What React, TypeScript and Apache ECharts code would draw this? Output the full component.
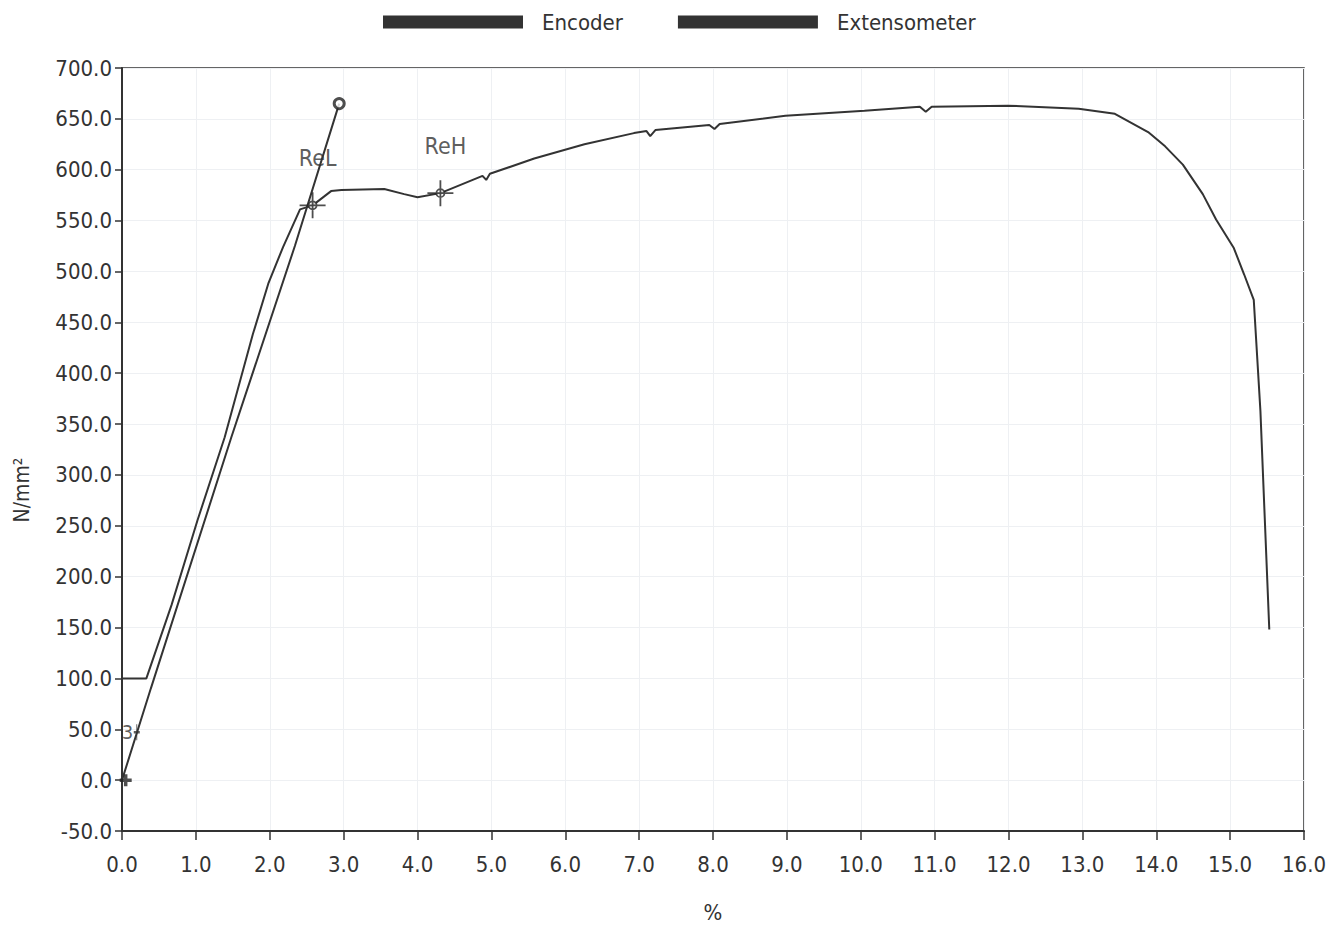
import React, { useEffect, useRef } from "react";
import * as echarts from "echarts";

// Encoder curve (strain %, stress N/mm²)
const encoderX = [0, 0.33, 0.67, 1.02, 1.39, 1.77, 1.98, 2.18, 2.41, 2.58, 2.83, 2.97, 3.55, 3.82, 4.0, 4.31, 4.88, 4.93, 4.98, 5.58, 6.26, 6.93, 7.1, 7.15, 7.22, 7.95, 8.02, 8.09, 8.98, 10.05, 10.8, 10.88, 10.96, 11.99, 12.95, 13.44, 13.89, 14.12, 14.36, 14.63, 14.81, 15.05, 15.19, 15.32, 15.41, 15.45, 15.53];
const encoderY = [100, 100, 172, 255, 337, 438, 488, 524, 561, 565, 579, 580, 581, 576, 573, 577, 594, 590, 596, 611, 625, 636, 638, 633, 639, 644, 640, 645, 653, 658, 662, 657, 662, 663, 660, 655, 637, 623, 605, 576, 551, 523, 497, 472, 363, 291, 148];

// Extensometer line
const extX = [0, 0.39, 1.48, 2.34, 2.94];
const extY = [0, 90, 337, 525, 665];

// Yield markers
const markerX = [2.58, 4.31];
const markerY = [565, 577];
const markerLabels = ["ReL", "ReH"];

// Small annotations near origin
const startMark = [0.05, 0];
const noteMark = [0.2, 47];
const noteLabel = "3";

const xMin = 0, xMax = 16, xStep = 1;
const yMin = -50, yMax = 700, yStep = 50;

const FONT = "'Liberation Sans Narrow', 'DejaVu Sans Condensed', 'Liberation Sans', Arial, sans-serif";
const INK = "#333333";
const FS = 22;

export default function App() {
  const ref = useRef<HTMLDivElement>(null);
  useEffect(() => {
    if (!ref.current) return;
    const chart = echarts.init(ref.current, null, { renderer: "svg" });
    const fmt = (v: number) => v.toFixed(1);
    const option: any = {
      animation: false,
      backgroundColor: "#ffffff",
      textStyle: { fontFamily: FONT, color: INK },
      legend: {
        data: ["Encoder", "Extensometer"],
        left: 378,
        top: 6,
        icon: "rect",
        itemWidth: 140,
        itemHeight: 13,
        itemGap: 55,
        textStyle: { fontSize: FS, color: INK, fontFamily: FONT, padding: [0, 0, 0, 14] },
      },
      grid: {
        left: 122,
        right: 40,
        top: 68,
        bottom: 96,
        show: true,
        borderColor: INK,
        borderWidth: 1.5,
        backgroundColor: "transparent",
      },
      xAxis: {
        type: "value",
        min: xMin,
        max: xMax,
        interval: xStep,
        name: "%",
        nameLocation: "middle",
        nameGap: 70,
        nameTextStyle: { fontSize: FS, color: INK, fontFamily: FONT },
        axisLine: { onZero: false, lineStyle: { color: INK, width: 2 } },
        axisTick: { show: true, length: 9, lineStyle: { color: INK, width: 1.5 } },
        axisLabel: { formatter: fmt, fontSize: FS, color: INK, fontFamily: FONT, margin: 22 },
        splitLine: { show: true, lineStyle: { color: "#eef0f3", width: 1 } },
      },
      yAxis: {
        type: "value",
        min: yMin,
        max: yMax,
        interval: yStep,
        axisLine: { show: true, onZero: false, lineStyle: { color: INK, width: 2 } },
        axisTick: { show: true, length: 7, lineStyle: { color: INK, width: 1.5 } },
        axisLabel: { formatter: fmt, fontSize: FS, color: INK, fontFamily: FONT, margin: 10 },
        splitLine: { show: true, lineStyle: { color: "#eef0f3", width: 1 } },
      },
      graphic: [
        {
          type: "text",
          x: 22,
          y: 490,
          rotation: Math.PI / 2,
          style: {
            text: "N/mm²",
            fontSize: 21,
            fontFamily: FONT,
            fill: INK,
            align: "center",
            verticalAlign: "middle",
          },
        },
      ],
      series: [
        {
          name: "Encoder",
          type: "line",
          data: encoderX.map((x, i) => [x, encoderY[i]]),
          showSymbol: false,
          color: INK,
          lineStyle: { color: INK, width: 2 },
          z: 3,
        },
        {
          name: "Extensometer",
          type: "line",
          data: extX.map((x, i) => [x, extY[i]]),
          showSymbol: false,
          color: INK,
          lineStyle: { color: INK, width: 2 },
          z: 3,
        },
        {
          name: "yield",
          type: "scatter",
          data: markerX.map((x, i) => [x, markerY[i]]),
          symbol: "path://M0,13L26,13M13,0L13,26M17,13A4,4,0,1,1,9,13A4,4,0,1,1,17,13Z",
          symbolSize: 26,
          itemStyle: { color: "#ffffff", borderColor: "#222222", borderWidth: 1.8 },
          label: {
            show: true,
            position: "top",
            distance: 22,
            offset: [5, 0],
            formatter: (p: any) => markerLabels[p.dataIndex],
            fontSize: 23,
            color: INK,
            fontFamily: FONT,
          },
          z: 5,
        },
        {
          name: "end",
          type: "scatter",
          data: [[extX[extX.length - 1], extY[extY.length - 1]]],
          symbol: "circle",
          symbolSize: 10,
          itemStyle: { color: "#ffffff", borderColor: "#222222", borderWidth: 3 },
          z: 6,
        },
        {
          name: "start",
          type: "scatter",
          data: [startMark],
          symbol: "path://M0,6L12,6M6,0L6,12",
          symbolSize: 12,
          itemStyle: { color: INK, borderColor: "#222222", borderWidth: 3.5 },
          z: 6,
        },
        {
          name: "note",
          type: "scatter",
          data: [noteMark],
          symbol: "path://M0,0L0,16M-3,8L3,8",
          symbolSize: [6, 16],
          itemStyle: { color: INK, borderColor: INK, borderWidth: 1.5 },
          label: {
            show: true,
            position: "left",
            distance: 0,
            formatter: noteLabel,
            fontSize: 20,
            color: INK,
            fontFamily: FONT,
          },
          z: 6,
        },
      ],
    };
    chart.setOption(option);
    return () => chart.dispose();
  }, []);
  return (
    <div
      ref={ref}
      style={{ position: "fixed", left: 0, top: 0, width: 1344, height: 928, background: "#ffffff" }}
    />
  );
}
